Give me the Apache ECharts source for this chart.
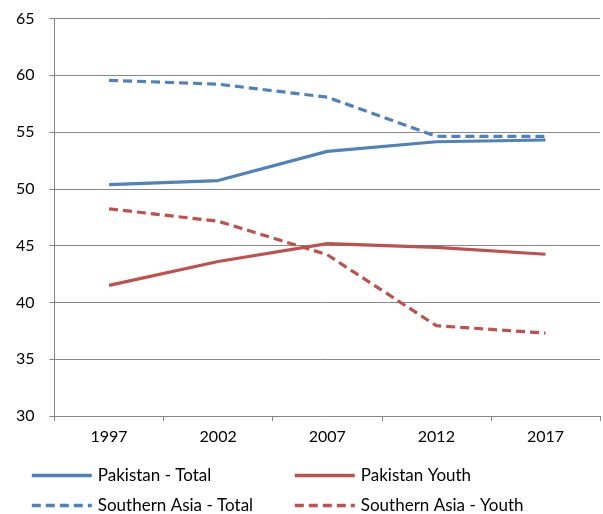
<!DOCTYPE html>
<html><head><meta charset="utf-8">
<script src="https://cdn.jsdelivr.net/npm/echarts@6/dist/echarts.min.js"></script>
<style>html,body{margin:0;padding:0;background:#fff}#c{width:603px;height:514px}</style>
</head><body><div id="c"></div>
<script>
const years = ['1997','2002','2007','2012','2017'];
const pakTotal = [50.38, 50.73, 53.3, 54.15, 54.3];
const pakYouth = [41.5, 43.6, 45.18, 44.85, 44.24];
const saTotal = [59.56, 59.22, 58.07, 54.63, 54.62];
const saYouth = [48.24, 47.15, 44.2, 37.95, 37.3];
const yTicks = {min: 30, max: 65, interval: 5};

const BLUE = '#4F81BD', RED = '#C0504D', GRAY = '#868686';
const FONT = 'Lato';
const dash = [9, 5];

function mk(name, data, color, dashed) {
  return {
    name, type: 'line', data, symbol: 'none', smooth: false,
    lineStyle: {color, width: 3.2, type: dashed ? dash : 'solid'},
    itemStyle: {color}
  };
}
function lg(name, left, top) {
  return {
    data: [name], left, top, itemWidth: 60, itemHeight: 12, itemGap: 0,
    itemStyle: {opacity: 0},
    lineStyle: {width: 3.6},
    textStyle: {fontFamily: FONT, fontSize: 17, color: '#000', padding: [0,0,0,1]},
    padding: 0
  };
}
const chart = echarts.init(document.getElementById('c'), null, {renderer: 'canvas'});
chart.setOption({
  animation: false,
  grid: {left: 54.5, right: 3, top: 18.5, bottom: 98},
  xAxis: {
    type: 'category', data: years, boundaryGap: true,
    axisLine: {lineStyle: {color: GRAY, width: 1}},
    axisTick: {show: true, length: 5, lineStyle: {color: GRAY}},
    axisLabel: {fontFamily: FONT, fontSize: 16, color: '#000', margin: 13}
  },
  yAxis: {
    type: 'value', min: yTicks.min, max: yTicks.max, interval: yTicks.interval,
    axisLine: {show: true, lineStyle: {color: GRAY, width: 1}},
    axisTick: {show: true, length: 5, lineStyle: {color: GRAY}},
    splitLine: {lineStyle: {color: GRAY, width: 1}},
    axisLabel: {fontFamily: FONT, fontSize: 16, color: '#000', margin: 20}
  },
  legend: [
    lg('Pakistan - Total', 30, 467),
    lg('Pakistan Youth', 293, 467),
    lg('Southern Asia - Total', 30, 497),
    lg('Southern Asia - Youth', 293, 497)
  ],
  series: [
    mk('Pakistan - Total', pakTotal, BLUE, false),
    mk('Pakistan Youth', pakYouth, RED, false),
    mk('Southern Asia - Total', saTotal, BLUE, true),
    mk('Southern Asia - Youth', saYouth, RED, true)
  ]
});
</script></body></html>
